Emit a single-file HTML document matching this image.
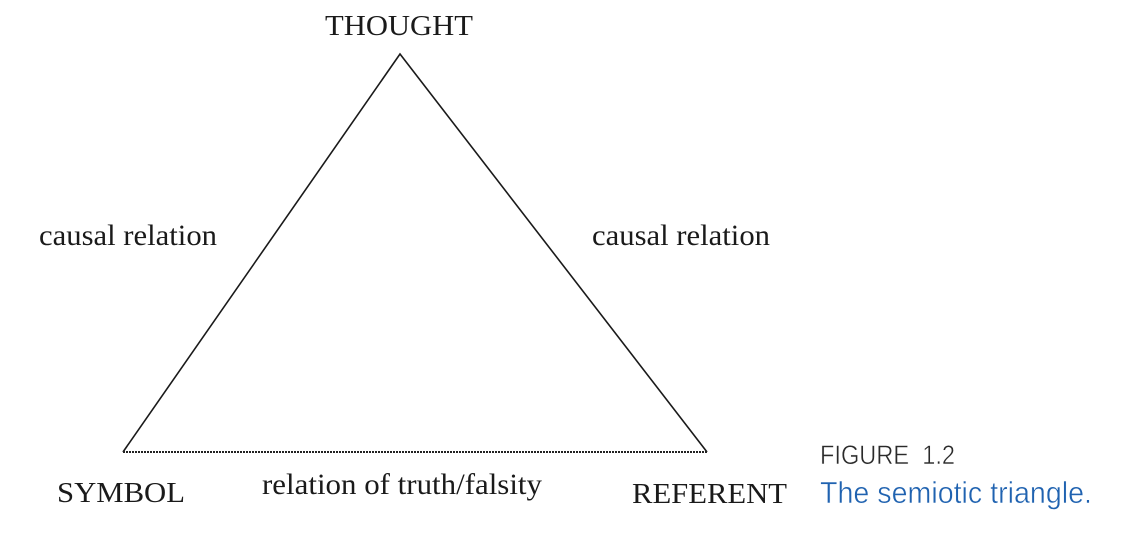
<!DOCTYPE html>
<html>
<head>
<meta charset="utf-8">
<style>
html,body{margin:0;padding:0;background:#fff;width:1146px;height:547px;overflow:hidden}
svg{display:block}
.s{font-family:"Liberation Serif",serif;font-size:29px;fill:#1a1a1a}
.l{font-family:"Liberation Serif",serif;font-size:29.5px;fill:#1a1a1a}
.c{font-family:"Liberation Sans",sans-serif;stroke:#fff;stroke-width:.5px}
</style>
</head>
<body>
<svg width="1146" height="547" viewBox="0 0 1146 547" xmlns="http://www.w3.org/2000/svg">
<polyline points="123,452 400,54 707,452" fill="none" stroke="#1a1a1a" stroke-width="1.6"/>
<line x1="123" y1="452" x2="707" y2="452" stroke="#222" stroke-width="2" stroke-dasharray="2 1"/>
<text class="s" x="325" y="35" textLength="148" lengthAdjust="spacingAndGlyphs">THOUGHT</text>
<text class="l" x="39" y="245" textLength="178" lengthAdjust="spacingAndGlyphs">causal relation</text>
<text class="l" x="592" y="245" textLength="178" lengthAdjust="spacingAndGlyphs">causal relation</text>
<text class="s" x="57" y="502" textLength="128" lengthAdjust="spacingAndGlyphs">SYMBOL</text>
<text class="l" x="262" y="494" textLength="280" lengthAdjust="spacingAndGlyphs">relation of truth/falsity</text>
<text class="s" x="632" y="503" textLength="155" lengthAdjust="spacingAndGlyphs">REFERENT</text>
<text class="c" x="820" y="464" font-size="27" fill="#2a2a2a" textLength="135" lengthAdjust="spacingAndGlyphs" xml:space="preserve">FIGURE  1.2</text>
<text class="c" x="820" y="503" font-size="31" fill="#1f62b0" textLength="272" lengthAdjust="spacingAndGlyphs">The semiotic triangle.</text>
</svg>
</body>
</html>
